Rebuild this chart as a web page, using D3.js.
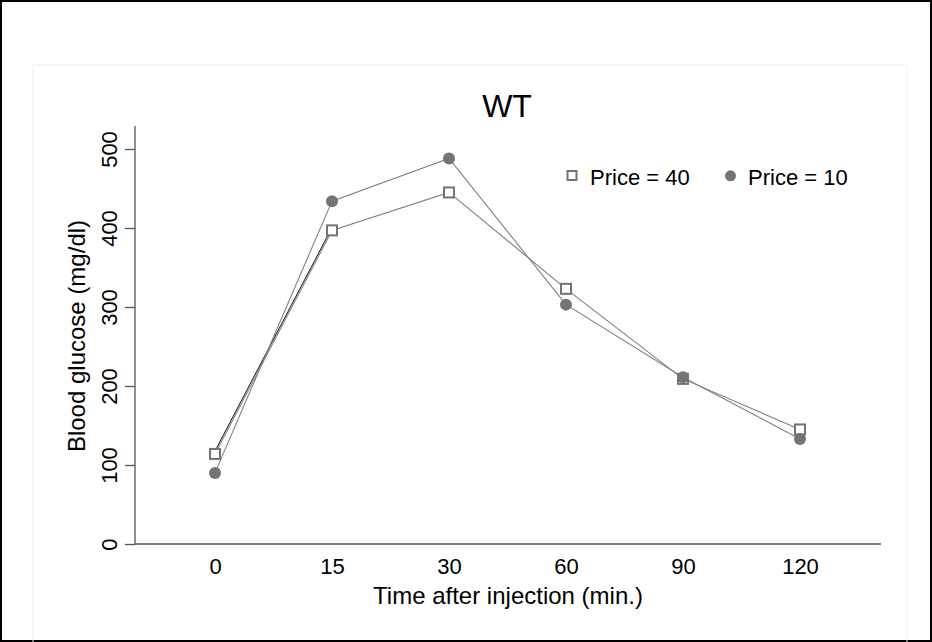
<!DOCTYPE html>
<html><head><meta charset="utf-8">
<script src="https://cdn.jsdelivr.net/npm/d3@7"></script>
<style>body{margin:0;background:#fff}svg{display:block}</style>
</head><body>
<script>
const times = ["0","15","30","60","90","120"];
const price40 = [114, 397, 445, 323, 209, 145];
const price10 = [90, 434, 488, 303, 211, 133];
const yTicks = [0,100,200,300,400,500];
const seriesNames = ["Price = 40","Price = 10"];

const W=932,H=642;
const svg=d3.select("body").append("svg").attr("width",W).attr("height",H)
  .style("font-family","'Liberation Sans', Arial, sans-serif");
svg.append("rect").attr("x",1).attr("y",1).attr("width",W-2).attr("height",H-2)
  .attr("fill","#fff").attr("stroke","#000").attr("stroke-width",2);
svg.append("rect").attr("x",33).attr("y",65).attr("width",874).attr("height",H)
  .attr("fill","none").attr("stroke","#eee").attr("stroke-width",1);

const x=d3.scalePoint().domain(times).range([215,800]);
const y=d3.scaleLinear().domain([0,500]).range([544,149]);
const xL=135,xR=881;

// axes
svg.append("line").attr("x1",xL).attr("x2",xL).attr("y1",y(529)).attr("y2",y(0))
  .attr("stroke","#555").attr("stroke-width",1.3);
svg.append("line").attr("x1",xL).attr("x2",xR).attr("y1",y(0)).attr("y2",y(0))
  .attr("stroke","#555").attr("stroke-width",1.3);
const yAxis=svg.append("g").attr("transform",`translate(${xL},0)`)
  .call(d3.axisLeft(y).tickValues(yTicks).tickSize(10).tickFormat(d3.format("d")));
yAxis.select(".domain").remove();
yAxis.selectAll(".tick line").attr("stroke","#555").attr("stroke-width",1.3);
yAxis.selectAll(".tick text").attr("font-size",22).attr("fill","#000")
  .attr("transform","rotate(-90)").attr("x",0).attr("y",-18).attr("dy","0")
  .attr("text-anchor","middle");
const xAxis=svg.append("g").attr("transform",`translate(0,${y(0)})`)
  .call(d3.axisBottom(x).tickSize(0).tickPadding(14));
xAxis.select(".domain").remove();
xAxis.selectAll(".tick text").attr("font-size",22).attr("fill","#000");

svg.append("text").attr("x",508).attr("y",604).attr("text-anchor","middle")
  .attr("font-size",24).text("Time after injection (min.)");
svg.append("text").attr("transform","translate(85,336) rotate(-90)").attr("text-anchor","middle")
  .attr("font-size",24).text("Blood glucose (mg/dl)");
svg.append("text").attr("x",507).attr("y",117).attr("text-anchor","middle")
  .attr("font-size",32).text("WT");

const grey="#747474";
const line=d3.line().x((d,i)=>x(times[i])).y(d=>y(d));
// black artefact segment
svg.append("path").attr("d",d3.line().x((d,i)=>x(times[i])-1.5).y(d=>y(d))(price40.slice(0,2)))
  .attr("fill","none").attr("stroke","#111").attr("stroke-width",1);
svg.append("path").attr("d",line(price40)).attr("fill","none").attr("stroke","#808080").attr("stroke-width",1.1);
svg.append("path").attr("d",line(price10)).attr("fill","none").attr("stroke","#808080").attr("stroke-width",1.1);

svg.selectAll(".sq").data(price40).enter().append("rect")
  .attr("x",(d,i)=>x(times[i])-5).attr("y",d=>y(d)-5).attr("width",10).attr("height",10)
  .attr("fill","#fff").attr("stroke",grey).attr("stroke-width",2);
svg.selectAll(".ci").data(price10).enter().append("circle")
  .attr("cx",(d,i)=>x(times[i])).attr("cy",d=>y(d)).attr("r",6).attr("fill",grey);

// legend
svg.append("rect").attr("x",567.5).attr("y",171).attr("width",9).attr("height",9)
  .attr("fill","#fff").attr("stroke",grey).attr("stroke-width",2);
svg.append("text").attr("x",590).attr("y",185).attr("font-size",22).text(seriesNames[0]);
svg.append("circle").attr("cx",730.5).attr("cy",175.8).attr("r",5.5).attr("fill",grey);
svg.append("text").attr("x",748).attr("y",185).attr("font-size",22).text(seriesNames[1]);
</script>
</body></html>
